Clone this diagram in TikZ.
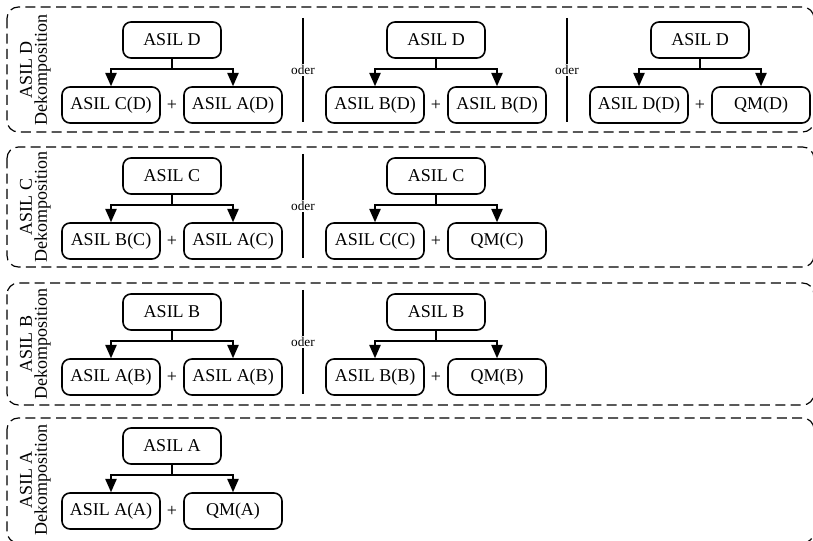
\documentclass[tikz,border=0pt]{standalone}
\usepackage{fontspec}
\setmainfont{Liberation Serif}
\usetikzlibrary{arrows.meta}
\tikzset{
  box/.style={draw, line width=1.2pt, rounded corners=6pt, minimum width=73.5pt, minimum height=27pt, inner sep=0pt, font=\fontsize{13.5}{15}\selectfont},
  plus/.style={inner sep=0pt, font=\fontsize{13.5}{15}\selectfont},
  arr/.style={line width=1.1pt, -{Triangle[length=10pt,width=8.5pt]}},
  panel/.style={draw, dash pattern=on 7.5pt off 4pt, line width=0.9pt, rounded corners=8.5pt},
  sepline/.style={line width=0.8pt},
  oder/.style={fill=white, inner sep=1pt, font=\fontsize{10}{12}\selectfont},
  lbl/.style={rotate=90, inner sep=0pt, font=\fontsize{13.5}{15}\selectfont}
}
\newcommand{\asilgroup}[6]{%
  \node[box] (#1t) at (#2,#3) {#4};
  \node[box] (#1l) at ({#2-61},{#3+65}) {#5};
  \node[box] (#1r) at ({#2+61},{#3+65}) {#6};
  \node[plus] (#1p) at (#2,{#3+65}) {+};
  \draw[arr] (#1t.south) -- ++(0,10) -| (#1l.north);
  \draw[arr] (#1t.south) -- ++(0,10) -| (#1r.north);
}
\newcommand{\odersep}[3]{%
  \coordinate (#1a) at (#2,{#3-22});
  \coordinate (#1b) at (#2,{#3+82});
  \draw[sepline] (#1a) -- (#1b);
  \node[oder] (#1o) at (#2,{#3+30}) {oder};
}
\begin{document}
\begin{tikzpicture}[x=0.75pt,y=-0.75pt]
\useasboundingbox (0,0) rectangle (813,541);
% panels
\draw[panel] (7,7) rectangle (814,132);
\draw[panel] (7,147) rectangle (814,267);
\draw[panel] (7,283) rectangle (814,405);
\draw[panel] (7,418) rectangle (814,543);
% side labels
\node[lbl] (lDa) at (26,70) {ASIL D};
\node[lbl] (lDb) at (42.5,70) {Dekomposition};
\node[lbl] (lCa) at (26,207) {ASIL C};
\node[lbl] (lCb) at (42.5,207) {Dekomposition};
\node[lbl] (lBa) at (26,344) {ASIL B};
\node[lbl] (lBb) at (42.5,344) {Dekomposition};
\node[lbl] (lAa) at (26,480) {ASIL A};
\node[lbl] (lAb) at (42.5,480) {Dekomposition};
% ASIL D
\asilgroup{dA}{172}{40}{ASIL D}{ASIL C(D)}{ASIL A(D)}
\asilgroup{dB}{436}{40}{ASIL D}{ASIL B(D)}{ASIL B(D)}
\asilgroup{dC}{700}{40}{ASIL D}{ASIL D(D)}{QM(D)}
\odersep{sD1}{303}{40}
\odersep{sD2}{567}{40}
% ASIL C
\asilgroup{cA}{172}{176}{ASIL C}{ASIL B(C)}{ASIL A(C)}
\asilgroup{cB}{436}{176}{ASIL C}{ASIL C(C)}{QM(C)}
\odersep{sC1}{303}{176}
% ASIL B
\asilgroup{bA}{172}{312}{ASIL B}{ASIL A(B)}{ASIL A(B)}
\asilgroup{bB}{436}{312}{ASIL B}{ASIL B(B)}{QM(B)}
\odersep{sB1}{303}{312}
% ASIL A
\asilgroup{aA}{172}{446}{ASIL A}{ASIL A(A)}{QM(A)}
\end{tikzpicture}
\end{document}
